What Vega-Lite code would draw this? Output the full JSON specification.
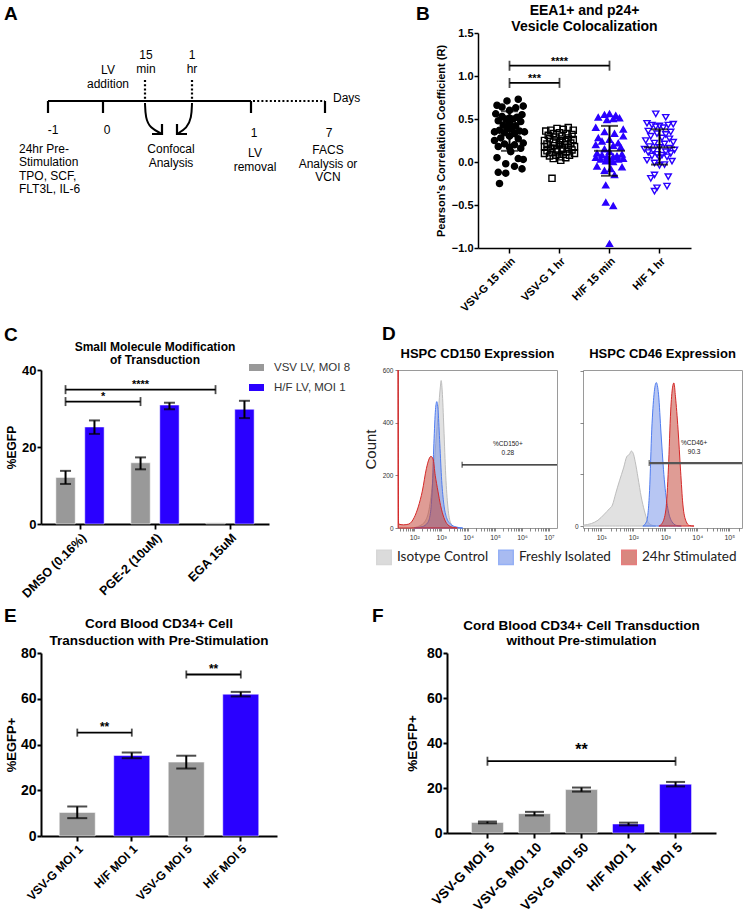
{
  "$schema": "https://vega.github.io/schema/vega-lite/v6.json",
  "background": "#ffffff",
  "padding": {"left": 3, "top": 4, "right": 0, "bottom": 0},
  "config": {
    "font": "Liberation Sans",
    "view": {"stroke": null},
    "axis": {"labelFont": "Liberation Sans", "titleFont": "Liberation Sans", "labelFontWeight": "bold", "titleFontWeight": "bold", "labelColor": "#000", "titleColor": "#000", "domainColor": "#000", "tickColor": "#000", "domainWidth": 2, "tickWidth": 2, "grid": false},
    "legend": {"labelFont": "Liberation Sans"},
    "text": {"font": "Liberation Sans"}
  },
  "datasets": {
    "a_lines": [
      {"seg": "main", "kind": "solid", "ord": 1, "x": 7, "y": 147},
      {"seg": "main", "kind": "solid", "ord": 2, "x": 210, "y": 147},
      {"seg": "t1", "kind": "solid", "ord": 1, "x": 7, "y": 147},
      {"seg": "t1", "kind": "solid", "ord": 2, "x": 7, "y": 135},
      {"seg": "t2", "kind": "solid", "ord": 1, "x": 62, "y": 147},
      {"seg": "t2", "kind": "solid", "ord": 2, "x": 62, "y": 135},
      {"seg": "t3", "kind": "solid", "ord": 1, "x": 210, "y": 147},
      {"seg": "t3", "kind": "solid", "ord": 2, "x": 210, "y": 135},
      {"seg": "t4", "kind": "solid", "ord": 1, "x": 284, "y": 147},
      {"seg": "t4", "kind": "solid", "ord": 2, "x": 284, "y": 135},
      {"seg": "h1", "kind": "solid", "ord": 1, "x": 111, "y": 114},
      {"seg": "h1", "kind": "solid", "ord": 2, "x": 121, "y": 114},
      {"seg": "h1", "kind": "solid", "ord": 3, "x": 121, "y": 124},
      {"seg": "h2", "kind": "solid", "ord": 1, "x": 146, "y": 114},
      {"seg": "h2", "kind": "solid", "ord": 2, "x": 136, "y": 114},
      {"seg": "h2", "kind": "solid", "ord": 3, "x": 136, "y": 124},
      {"seg": "ext", "kind": "dotted", "ord": 1, "x": 212, "y": 147},
      {"seg": "ext", "kind": "dotted", "ord": 2, "x": 284, "y": 147},
      {"seg": "d1", "kind": "dotted", "ord": 1, "x": 104, "y": 168},
      {"seg": "d1", "kind": "dotted", "ord": 2, "x": 104, "y": 148},
      {"seg": "d2", "kind": "dotted", "ord": 1, "x": 151, "y": 168},
      {"seg": "d2", "kind": "dotted", "ord": 2, "x": 151, "y": 148},
      {"seg": "c1", "kind": "curve", "ord": 1, "x": 104, "y": 145},
      {"seg": "c1", "kind": "curve", "ord": 2, "x": 104.5, "y": 130},
      {"seg": "c1", "kind": "curve", "ord": 3, "x": 109, "y": 120},
      {"seg": "c1", "kind": "curve", "ord": 4, "x": 121, "y": 114},
      {"seg": "c2", "kind": "curve", "ord": 1, "x": 151, "y": 145},
      {"seg": "c2", "kind": "curve", "ord": 2, "x": 150.5, "y": 130},
      {"seg": "c2", "kind": "curve", "ord": 3, "x": 146, "y": 120},
      {"seg": "c2", "kind": "curve", "ord": 4, "x": 136, "y": 114}
    ],
    "a_text_c": [
      {"t": "LV\naddition", "x": 67, "y": 174},
      {"t": "15\nmin", "x": 105, "y": 189},
      {"t": "1\nhr", "x": 151, "y": 189},
      {"t": "-1", "x": 12, "y": 114},
      {"t": "0", "x": 66, "y": 114},
      {"t": "1", "x": 213, "y": 111},
      {"t": "7", "x": 288, "y": 111},
      {"t": "Confocal\nAnalysis", "x": 130, "y": 95},
      {"t": "LV\nremoval", "x": 214, "y": 91},
      {"t": "FACS\nAnalysis or\nVCN", "x": 287, "y": 94}
    ],
    "a_text_l": [
      {"t": "Days", "x": 292, "y": 146},
      {"t": "24hr Pre-\nStimulation\nTPO, SCF,\nFLT3L, IL-6", "x": -22, "y": 95}
    ],
    "b_pts": [
      {"g": "VSV-G 15 min", "r": 0.73, "j": 0.35}, {"g": "VSV-G 15 min", "r": 0.71, "j": -0.1}, {"g": "VSV-G 15 min", "r": 0.66, "j": -0.5}, {"g": "VSV-G 15 min", "r": 0.65, "j": 0.55},
      {"g": "VSV-G 15 min", "r": 0.64, "j": -0.3}, {"g": "VSV-G 15 min", "r": 0.63, "j": 0.25}, {"g": "VSV-G 15 min", "r": 0.60, "j": 0.0}, {"g": "VSV-G 15 min", "r": 0.56, "j": -0.55},
      {"g": "VSV-G 15 min", "r": 0.55, "j": 0.5}, {"g": "VSV-G 15 min", "r": 0.53, "j": -0.3}, {"g": "VSV-G 15 min", "r": 0.52, "j": 0.3}, {"g": "VSV-G 15 min", "r": 0.51, "j": 0.0},
      {"g": "VSV-G 15 min", "r": 0.50, "j": -0.15}, {"g": "VSV-G 15 min", "r": 0.50, "j": 0.15}, {"g": "VSV-G 15 min", "r": 0.48, "j": -0.45}, {"g": "VSV-G 15 min", "r": 0.47, "j": 0.45},
      {"g": "VSV-G 15 min", "r": 0.45, "j": 0.0}, {"g": "VSV-G 15 min", "r": 0.43, "j": -0.25}, {"g": "VSV-G 15 min", "r": 0.42, "j": 0.25}, {"g": "VSV-G 15 min", "r": 0.39, "j": -0.1},
      {"g": "VSV-G 15 min", "r": 0.38, "j": 0.1}, {"g": "VSV-G 15 min", "r": 0.37, "j": -0.4}, {"g": "VSV-G 15 min", "r": 0.36, "j": 0.4}, {"g": "VSV-G 15 min", "r": 0.35, "j": -0.6},
      {"g": "VSV-G 15 min", "r": 0.35, "j": 0.6}, {"g": "VSV-G 15 min", "r": 0.34, "j": -0.2}, {"g": "VSV-G 15 min", "r": 0.33, "j": 0.2}, {"g": "VSV-G 15 min", "r": 0.30, "j": 0.0},
      {"g": "VSV-G 15 min", "r": 0.28, "j": -0.35}, {"g": "VSV-G 15 min", "r": 0.27, "j": 0.35}, {"g": "VSV-G 15 min", "r": 0.25, "j": -0.6}, {"g": "VSV-G 15 min", "r": 0.22, "j": 0.55},
      {"g": "VSV-G 15 min", "r": 0.21, "j": -0.2}, {"g": "VSV-G 15 min", "r": 0.20, "j": 0.2}, {"g": "VSV-G 15 min", "r": 0.18, "j": -0.45}, {"g": "VSV-G 15 min", "r": 0.17, "j": 0.0},
      {"g": "VSV-G 15 min", "r": 0.16, "j": 0.45}, {"g": "VSV-G 15 min", "r": 0.12, "j": 0.05}, {"g": "VSV-G 15 min", "r": 0.05, "j": -0.5}, {"g": "VSV-G 15 min", "r": 0.04, "j": 0.35},
      {"g": "VSV-G 15 min", "r": 0.03, "j": 0.55}, {"g": "VSV-G 15 min", "r": -0.02, "j": -0.15}, {"g": "VSV-G 15 min", "r": -0.05, "j": 0.2}, {"g": "VSV-G 15 min", "r": -0.08, "j": 0.5},
      {"g": "VSV-G 15 min", "r": -0.12, "j": -0.45}, {"g": "VSV-G 15 min", "r": -0.13, "j": -0.15}, {"g": "VSV-G 15 min", "r": -0.25, "j": -0.4},
      {"g": "VSV-G 1 hr", "r": 0.40, "j": 0.35}, {"g": "VSV-G 1 hr", "r": 0.39, "j": -0.1}, {"g": "VSV-G 1 hr", "r": 0.38, "j": 0.15}, {"g": "VSV-G 1 hr", "r": 0.37, "j": -0.35},
      {"g": "VSV-G 1 hr", "r": 0.37, "j": 0.55}, {"g": "VSV-G 1 hr", "r": 0.36, "j": -0.55}, {"g": "VSV-G 1 hr", "r": 0.34, "j": 0.0}, {"g": "VSV-G 1 hr", "r": 0.33, "j": -0.25},
      {"g": "VSV-G 1 hr", "r": 0.33, "j": 0.3}, {"g": "VSV-G 1 hr", "r": 0.32, "j": 0.5}, {"g": "VSV-G 1 hr", "r": 0.31, "j": -0.45}, {"g": "VSV-G 1 hr", "r": 0.30, "j": 0.1},
      {"g": "VSV-G 1 hr", "r": 0.29, "j": -0.15}, {"g": "VSV-G 1 hr", "r": 0.28, "j": 0.35}, {"g": "VSV-G 1 hr", "r": 0.27, "j": -0.4}, {"g": "VSV-G 1 hr", "r": 0.26, "j": 0.55},
      {"g": "VSV-G 1 hr", "r": 0.25, "j": -0.6}, {"g": "VSV-G 1 hr", "r": 0.25, "j": 0.05}, {"g": "VSV-G 1 hr", "r": 0.24, "j": 0.25}, {"g": "VSV-G 1 hr", "r": 0.23, "j": -0.25},
      {"g": "VSV-G 1 hr", "r": 0.22, "j": 0.45}, {"g": "VSV-G 1 hr", "r": 0.21, "j": -0.5}, {"g": "VSV-G 1 hr", "r": 0.20, "j": 0.0}, {"g": "VSV-G 1 hr", "r": 0.20, "j": 0.2},
      {"g": "VSV-G 1 hr", "r": 0.19, "j": -0.2}, {"g": "VSV-G 1 hr", "r": 0.18, "j": 0.6}, {"g": "VSV-G 1 hr", "r": 0.18, "j": -0.6}, {"g": "VSV-G 1 hr", "r": 0.17, "j": 0.35},
      {"g": "VSV-G 1 hr", "r": 0.16, "j": -0.35}, {"g": "VSV-G 1 hr", "r": 0.15, "j": 0.1}, {"g": "VSV-G 1 hr", "r": 0.14, "j": -0.1}, {"g": "VSV-G 1 hr", "r": 0.14, "j": 0.5},
      {"g": "VSV-G 1 hr", "r": 0.13, "j": -0.5}, {"g": "VSV-G 1 hr", "r": 0.12, "j": 0.3}, {"g": "VSV-G 1 hr", "r": 0.11, "j": -0.3}, {"g": "VSV-G 1 hr", "r": 0.10, "j": 0.6},
      {"g": "VSV-G 1 hr", "r": 0.10, "j": -0.6}, {"g": "VSV-G 1 hr", "r": 0.09, "j": 0.15}, {"g": "VSV-G 1 hr", "r": 0.08, "j": -0.15}, {"g": "VSV-G 1 hr", "r": 0.08, "j": 0.4},
      {"g": "VSV-G 1 hr", "r": 0.07, "j": -0.4}, {"g": "VSV-G 1 hr", "r": 0.06, "j": 0.0}, {"g": "VSV-G 1 hr", "r": 0.05, "j": 0.25}, {"g": "VSV-G 1 hr", "r": 0.04, "j": -0.25},
      {"g": "VSV-G 1 hr", "r": 0.02, "j": 0.05}, {"g": "VSV-G 1 hr", "r": -0.19, "j": -0.3},
      {"g": "H/F 15 min", "r": 0.56, "j": 0.0}, {"g": "H/F 15 min", "r": 0.55, "j": -0.2}, {"g": "H/F 15 min", "r": 0.54, "j": 0.25}, {"g": "H/F 15 min", "r": 0.52, "j": -0.45},
      {"g": "H/F 15 min", "r": 0.51, "j": 0.4}, {"g": "H/F 15 min", "r": 0.50, "j": 0.15}, {"g": "H/F 15 min", "r": 0.49, "j": -0.1}, {"g": "H/F 15 min", "r": 0.40, "j": -0.55},
      {"g": "H/F 15 min", "r": 0.38, "j": 0.55}, {"g": "H/F 15 min", "r": 0.35, "j": -0.2}, {"g": "H/F 15 min", "r": 0.33, "j": 0.2}, {"g": "H/F 15 min", "r": 0.30, "j": 0.55},
      {"g": "H/F 15 min", "r": 0.28, "j": -0.45}, {"g": "H/F 15 min", "r": 0.26, "j": 0.0}, {"g": "H/F 15 min", "r": 0.24, "j": -0.3}, {"g": "H/F 15 min", "r": 0.22, "j": 0.35},
      {"g": "H/F 15 min", "r": 0.20, "j": -0.55}, {"g": "H/F 15 min", "r": 0.19, "j": 0.15}, {"g": "H/F 15 min", "r": 0.17, "j": 0.45}, {"g": "H/F 15 min", "r": 0.15, "j": -0.2},
      {"g": "H/F 15 min", "r": 0.12, "j": 0.0}, {"g": "H/F 15 min", "r": 0.10, "j": -0.5}, {"g": "H/F 15 min", "r": 0.09, "j": 0.5}, {"g": "H/F 15 min", "r": 0.08, "j": -0.3},
      {"g": "H/F 15 min", "r": 0.07, "j": 0.3}, {"g": "H/F 15 min", "r": 0.06, "j": -0.1}, {"g": "H/F 15 min", "r": 0.06, "j": 0.15}, {"g": "H/F 15 min", "r": 0.05, "j": -0.55},
      {"g": "H/F 15 min", "r": 0.04, "j": 0.55}, {"g": "H/F 15 min", "r": 0.03, "j": -0.35}, {"g": "H/F 15 min", "r": 0.03, "j": 0.35}, {"g": "H/F 15 min", "r": 0.02, "j": 0.0},
      {"g": "H/F 15 min", "r": 0.01, "j": -0.15}, {"g": "H/F 15 min", "r": 0.0, "j": 0.15}, {"g": "H/F 15 min", "r": -0.05, "j": -0.5}, {"g": "H/F 15 min", "r": -0.06, "j": 0.5},
      {"g": "H/F 15 min", "r": -0.08, "j": 0.05}, {"g": "H/F 15 min", "r": -0.10, "j": -0.2}, {"g": "H/F 15 min", "r": -0.15, "j": 0.2}, {"g": "H/F 15 min", "r": -0.27, "j": -0.15},
      {"g": "H/F 15 min", "r": -0.47, "j": -0.15}, {"g": "H/F 15 min", "r": -0.51, "j": 0.15}, {"g": "H/F 15 min", "r": -0.95, "j": 0.0},
      {"g": "H/F 1 hr", "r": 0.56, "j": -0.15}, {"g": "H/F 1 hr", "r": 0.52, "j": 0.25}, {"g": "H/F 1 hr", "r": 0.45, "j": -0.5}, {"g": "H/F 1 hr", "r": 0.44, "j": 0.55},
      {"g": "H/F 1 hr", "r": 0.43, "j": -0.3}, {"g": "H/F 1 hr", "r": 0.43, "j": 0.35}, {"g": "H/F 1 hr", "r": 0.42, "j": 0.0}, {"g": "H/F 1 hr", "r": 0.41, "j": -0.15},
      {"g": "H/F 1 hr", "r": 0.40, "j": 0.15}, {"g": "H/F 1 hr", "r": 0.36, "j": -0.45}, {"g": "H/F 1 hr", "r": 0.35, "j": 0.45}, {"g": "H/F 1 hr", "r": 0.33, "j": -0.1},
      {"g": "H/F 1 hr", "r": 0.32, "j": 0.25}, {"g": "H/F 1 hr", "r": 0.30, "j": -0.35}, {"g": "H/F 1 hr", "r": 0.28, "j": 0.1}, {"g": "H/F 1 hr", "r": 0.27, "j": 0.4},
      {"g": "H/F 1 hr", "r": 0.25, "j": -0.55}, {"g": "H/F 1 hr", "r": 0.23, "j": 0.55}, {"g": "H/F 1 hr", "r": 0.22, "j": -0.2}, {"g": "H/F 1 hr", "r": 0.21, "j": 0.2},
      {"g": "H/F 1 hr", "r": 0.18, "j": -0.4}, {"g": "H/F 1 hr", "r": 0.17, "j": 0.0}, {"g": "H/F 1 hr", "r": 0.16, "j": 0.4}, {"g": "H/F 1 hr", "r": 0.15, "j": -0.6},
      {"g": "H/F 1 hr", "r": 0.14, "j": 0.6}, {"g": "H/F 1 hr", "r": 0.13, "j": -0.25}, {"g": "H/F 1 hr", "r": 0.12, "j": 0.25}, {"g": "H/F 1 hr", "r": 0.11, "j": -0.45},
      {"g": "H/F 1 hr", "r": 0.10, "j": 0.45}, {"g": "H/F 1 hr", "r": 0.09, "j": -0.1}, {"g": "H/F 1 hr", "r": 0.08, "j": 0.1}, {"g": "H/F 1 hr", "r": 0.07, "j": -0.3},
      {"g": "H/F 1 hr", "r": 0.06, "j": 0.3}, {"g": "H/F 1 hr", "r": 0.05, "j": 0.0}, {"g": "H/F 1 hr", "r": 0.02, "j": -0.5}, {"g": "H/F 1 hr", "r": 0.01, "j": 0.5},
      {"g": "H/F 1 hr", "r": -0.01, "j": -0.2}, {"g": "H/F 1 hr", "r": -0.03, "j": 0.2}, {"g": "H/F 1 hr", "r": -0.04, "j": 0.0}, {"g": "H/F 1 hr", "r": -0.15, "j": -0.2},
      {"g": "H/F 1 hr", "r": -0.17, "j": 0.35}, {"g": "H/F 1 hr", "r": -0.19, "j": -0.35}, {"g": "H/F 1 hr", "r": -0.28, "j": 0.3}, {"g": "H/F 1 hr", "r": -0.30, "j": -0.1},
      {"g": "H/F 1 hr", "r": -0.34, "j": -0.2}
    ],
    "b_sum": [
      {"g": "VSV-G 15 min", "mean": 0.36, "lo": 0.13, "hi": 0.59},
      {"g": "VSV-G 1 hr", "mean": 0.18, "lo": 0.08, "hi": 0.28},
      {"g": "H/F 15 min", "mean": 0.13, "lo": -0.16, "hi": 0.42},
      {"g": "H/F 1 hr", "mean": 0.17, "lo": -0.03, "hi": 0.38}
    ],
    "b_br": [
      {"x1": 0, "x2": 2, "mid": 1, "y": 1.12, "ty": 1.125, "label": "****"},
      {"x1": 0, "x2": 1, "mid": 0.5, "y": 0.92, "ty": 0.925, "label": "***"}
    ],
    "c_bars": [
      {"treatment": "DMSO (0.16%)", "vector": "VSV LV, MOI 8", "mean": 12.1, "lo": 10.4, "hi": 13.8},
      {"treatment": "DMSO (0.16%)", "vector": "H/F LV, MOI 1", "mean": 25.2, "lo": 23.4, "hi": 26.9},
      {"treatment": "PGE-2 (10uM)", "vector": "VSV LV, MOI 8", "mean": 15.9, "lo": 14.2, "hi": 17.3},
      {"treatment": "PGE-2 (10uM)", "vector": "H/F LV, MOI 1", "mean": 30.9, "lo": 29.8, "hi": 31.5},
      {"treatment": "EGA 15uM", "vector": "VSV LV, MOI 8", "mean": 0.3, "lo": null, "hi": null},
      {"treatment": "EGA 15uM", "vector": "H/F LV, MOI 1", "mean": 29.8, "lo": 27.5, "hi": 32.0}
    ],
    "c_br": [
      {"x1": 0, "x2": 1, "mid": 0.5, "y": 31.8, "ty": 32.1, "label": "*"},
      {"x1": 0, "x2": 2, "mid": 1, "y": 34.9, "ty": 35.2, "label": "****"}
    ],
    "e_bars": [
      {"cond": "VSV-G MOI 1", "vector": "VSV-G", "mean": 10.3, "lo": 7.8, "hi": 12.9},
      {"cond": "H/F MOI 1", "vector": "H/F", "mean": 35.2, "lo": 34.0, "hi": 36.5},
      {"cond": "VSV-G MOI 5", "vector": "VSV-G", "mean": 32.3, "lo": 29.5, "hi": 35.1},
      {"cond": "H/F MOI 5", "vector": "H/F", "mean": 62.0, "lo": 61.0, "hi": 63.0}
    ],
    "e_br": [
      {"x1": 0, "x2": 1, "mid": 0.5, "y": 45.2, "ty": 45.7, "label": "**"},
      {"x1": 2, "x2": 3, "mid": 2.5, "y": 70.6, "ty": 71.1, "label": "**"}
    ],
    "f_bars": [
      {"cond": "VSV-G MOI 5", "vector": "VSV-G", "mean": 4.7, "lo": 4.3, "hi": 5.1},
      {"cond": "VSV-G MOI 10", "vector": "VSV-G", "mean": 8.6, "lo": 7.8, "hi": 9.4},
      {"cond": "VSV-G MOI 50", "vector": "VSV-G", "mean": 19.3, "lo": 18.4, "hi": 20.2},
      {"cond": "H/F MOI 1", "vector": "H/F", "mean": 4.0, "lo": 3.4, "hi": 4.6},
      {"cond": "H/F MOI 5", "vector": "H/F", "mean": 21.7, "lo": 20.7, "hi": 22.7}
    ],
    "f_br": [
      {"x1": 0, "x2": 4, "mid": 2, "y": 31.9, "ty": 34.8, "label": "**"}
    ],
    "d150": [
      {"series": "Isotype Control", "v": 79, "n": 0}, {"series": "Isotype Control", "v": 158, "n": 8}, {"series": "Isotype Control", "v": 251, "n": 25}, {"series": "Isotype Control", "v": 355, "n": 70},
      {"series": "Isotype Control", "v": 501, "n": 190}, {"series": "Isotype Control", "v": 631, "n": 320}, {"series": "Isotype Control", "v": 794, "n": 450}, {"series": "Isotype Control", "v": 933, "n": 535},
      {"series": "Isotype Control", "v": 1000, "n": 560}, {"series": "Isotype Control", "v": 1096, "n": 520}, {"series": "Isotype Control", "v": 1259, "n": 380}, {"series": "Isotype Control", "v": 1479, "n": 200},
      {"series": "Isotype Control", "v": 1778, "n": 80}, {"series": "Isotype Control", "v": 2239, "n": 20}, {"series": "Isotype Control", "v": 3162, "n": 3}, {"series": "Isotype Control", "v": 5012, "n": 0},
      {"series": "Freshly Isolated", "v": 100, "n": 0}, {"series": "Freshly Isolated", "v": 200, "n": 5}, {"series": "Freshly Isolated", "v": 316, "n": 20}, {"series": "Freshly Isolated", "v": 398, "n": 55},
      {"series": "Freshly Isolated", "v": 468, "n": 150}, {"series": "Freshly Isolated", "v": 537, "n": 320}, {"series": "Freshly Isolated", "v": 617, "n": 450}, {"series": "Freshly Isolated", "v": 692, "n": 480},
      {"series": "Freshly Isolated", "v": 776, "n": 440}, {"series": "Freshly Isolated", "v": 891, "n": 320}, {"series": "Freshly Isolated", "v": 1047, "n": 180}, {"series": "Freshly Isolated", "v": 1259, "n": 90},
      {"series": "Freshly Isolated", "v": 1585, "n": 40}, {"series": "Freshly Isolated", "v": 2239, "n": 15}, {"series": "Freshly Isolated", "v": 3548, "n": 4}, {"series": "Freshly Isolated", "v": 6310, "n": 0},
      {"series": "24hr Stimulated", "v": 25.2, "n": 600}, {"series": "24hr Stimulated", "v": 26.3, "n": 15}, {"series": "24hr Stimulated", "v": 39.8, "n": 12}, {"series": "24hr Stimulated", "v": 63, "n": 15},
      {"series": "24hr Stimulated", "v": 100, "n": 40}, {"series": "24hr Stimulated", "v": 141, "n": 80}, {"series": "24hr Stimulated", "v": 200, "n": 140}, {"series": "24hr Stimulated", "v": 282, "n": 225},
      {"series": "24hr Stimulated", "v": 355, "n": 262}, {"series": "24hr Stimulated", "v": 417, "n": 272}, {"series": "24hr Stimulated", "v": 501, "n": 262}, {"series": "24hr Stimulated", "v": 603, "n": 200},
      {"series": "24hr Stimulated", "v": 759, "n": 140}, {"series": "24hr Stimulated", "v": 955, "n": 85}, {"series": "24hr Stimulated", "v": 1259, "n": 40}, {"series": "24hr Stimulated", "v": 1778, "n": 12},
      {"series": "24hr Stimulated", "v": 2818, "n": 2}, {"series": "24hr Stimulated", "v": 3981, "n": 0}
    ],
    "d46": [
      {"series": "Isotype Control", "v": 2.8, "n": 3}, {"series": "Isotype Control", "v": 5, "n": 8}, {"series": "Isotype Control", "v": 7.9, "n": 18}, {"series": "Isotype Control", "v": 12.6, "n": 37},
      {"series": "Isotype Control", "v": 17.8, "n": 53}, {"series": "Isotype Control", "v": 22.4, "n": 65}, {"series": "Isotype Control", "v": 28.2, "n": 100}, {"series": "Isotype Control", "v": 37.2, "n": 140},
      {"series": "Isotype Control", "v": 50, "n": 180}, {"series": "Isotype Control", "v": 63, "n": 215}, {"series": "Isotype Control", "v": 76, "n": 222}, {"series": "Isotype Control", "v": 87, "n": 232},
      {"series": "Isotype Control", "v": 100, "n": 225}, {"series": "Isotype Control", "v": 115, "n": 200}, {"series": "Isotype Control", "v": 141, "n": 150}, {"series": "Isotype Control", "v": 178, "n": 90},
      {"series": "Isotype Control", "v": 224, "n": 47}, {"series": "Isotype Control", "v": 282, "n": 15}, {"series": "Isotype Control", "v": 355, "n": 4}, {"series": "Isotype Control", "v": 501, "n": 0},
      {"series": "Freshly Isolated", "v": 200, "n": 0}, {"series": "Freshly Isolated", "v": 263, "n": 15}, {"series": "Freshly Isolated", "v": 324, "n": 110}, {"series": "Freshly Isolated", "v": 380, "n": 300},
      {"series": "Freshly Isolated", "v": 447, "n": 408}, {"series": "Freshly Isolated", "v": 525, "n": 444}, {"series": "Freshly Isolated", "v": 617, "n": 408}, {"series": "Freshly Isolated", "v": 741, "n": 285},
      {"series": "Freshly Isolated", "v": 933, "n": 145}, {"series": "Freshly Isolated", "v": 1202, "n": 55}, {"series": "Freshly Isolated", "v": 1585, "n": 15}, {"series": "Freshly Isolated", "v": 2239, "n": 2},
      {"series": "Freshly Isolated", "v": 3162, "n": 0},
      {"series": "24hr Stimulated", "v": 631, "n": 0}, {"series": "24hr Stimulated", "v": 794, "n": 8}, {"series": "24hr Stimulated", "v": 1047, "n": 50}, {"series": "24hr Stimulated", "v": 1259, "n": 180},
      {"series": "24hr Stimulated", "v": 1479, "n": 356}, {"series": "24hr Stimulated", "v": 1698, "n": 430}, {"series": "24hr Stimulated", "v": 1862, "n": 443}, {"series": "24hr Stimulated", "v": 2089, "n": 400},
      {"series": "24hr Stimulated", "v": 2512, "n": 300}, {"series": "24hr Stimulated", "v": 3020, "n": 170}, {"series": "24hr Stimulated", "v": 3548, "n": 68}, {"series": "24hr Stimulated", "v": 4467, "n": 15},
      {"series": "24hr Stimulated", "v": 5623, "n": 2}, {"series": "24hr Stimulated", "v": 7943, "n": 0}
    ],
    "d150_gate": [{"from": 6000, "to": 20000000, "y": 240, "tx": 300000, "ty": 310, "label": "%CD150+\n0.28"}],
    "d46_gate": [{"from": 316, "to": 250000, "y": 195, "tx": 8000, "ty": 250, "label": "%CD46+\n90.3"}],
    "one": [{"k": 1}]
  },
  "resolve": {"scale": {"fill": "independent", "stroke": "independent", "shape": "independent"}},
  "spacing": 6,
  "vconcat": [
    {
      "spacing": 10,
      "resolve": {"scale": {"fill": "independent", "stroke": "independent", "shape": "independent"}},
      "vconcat": [
        {
          "bounds": "flush",
          "spacing": 107,
          "resolve": {"scale": {"fill": "independent", "stroke": "independent", "shape": "independent"}},
          "hconcat": [
            {
              "width": 330,
              "height": 215,
              "layer": [
                {
                  "data": {"name": "a_lines"},
                  "transform": [{"filter": {"field": "kind", "equal": "solid"}}],
                  "mark": {"type": "line", "color": "#000", "strokeWidth": 2.2},
                  "encoding": {
                    "x": {"field": "x", "type": "quantitative", "scale": {"domain": [0, 330], "nice": false, "zero": false}, "axis": null},
                    "y": {"field": "y", "type": "quantitative", "scale": {"domain": [0, 215], "nice": false, "zero": false}, "axis": null},
                    "detail": {"field": "seg", "type": "nominal"},
                    "order": {"field": "ord", "type": "quantitative"}
                  }
                },
                {
                  "data": {"name": "a_lines"},
                  "transform": [{"filter": {"field": "kind", "equal": "dotted"}}],
                  "mark": {"type": "line", "color": "#000", "strokeWidth": 2.2, "strokeDash": [2, 2.2]},
                  "encoding": {
                    "x": {"field": "x", "type": "quantitative", "axis": null},
                    "y": {"field": "y", "type": "quantitative", "axis": null},
                    "detail": {"field": "seg", "type": "nominal"},
                    "order": {"field": "ord", "type": "quantitative"}
                  }
                },
                {
                  "data": {"name": "a_lines"},
                  "transform": [{"filter": {"field": "kind", "equal": "curve"}}],
                  "mark": {"type": "line", "color": "#000", "strokeWidth": 2, "interpolate": "basis"},
                  "encoding": {
                    "x": {"field": "x", "type": "quantitative", "axis": null},
                    "y": {"field": "y", "type": "quantitative", "axis": null},
                    "detail": {"field": "seg", "type": "nominal"},
                    "order": {"field": "ord", "type": "quantitative"}
                  }
                },
                {
                  "data": {"name": "a_text_c"},
                  "mark": {"type": "text", "align": "center", "baseline": "alphabetic", "fontSize": 12, "lineBreak": "\n", "lineHeight": 13.5, "color": "#000"},
                  "encoding": {
                    "x": {"field": "x", "type": "quantitative", "axis": null},
                    "y": {"field": "y", "type": "quantitative", "axis": null},
                    "text": {"field": "t"}
                  }
                },
                {
                  "data": {"name": "a_text_l"},
                  "mark": {"type": "text", "align": "left", "baseline": "alphabetic", "fontSize": 12, "lineBreak": "\n", "lineHeight": 13.3, "color": "#000"},
                  "encoding": {
                    "x": {"field": "x", "type": "quantitative", "axis": null},
                    "y": {"field": "y", "type": "quantitative", "axis": null},
                    "text": {"field": "t"}
                  }
                },
                {
                  "data": {"name": "one"},
                  "mark": {"type": "text", "align": "left", "baseline": "alphabetic", "fontSize": 19, "fontWeight": "bold", "color": "#000"},
                  "encoding": {
                    "x": {"datum": -37, "type": "quantitative", "axis": null},
                    "y": {"datum": 228, "type": "quantitative", "axis": null},
                    "text": {"value": "A"}
                  }
                }
              ]
            },
            {
              "width": 213,
              "height": 215,
              "layer": [
                {
                  "layer": [
                    {
                      "data": {"name": "b_pts"},
                      "mark": {"type": "point", "size": 38, "strokeWidth": 1.4, "opacity": 1},
                      "encoding": {
                        "x": {"field": "g", "type": "nominal", "scale": {"domain": ["VSV-G 15 min", "VSV-G 1 hr", "H/F 15 min", "H/F 1 hr"], "paddingInner": 0, "paddingOuter": 0.13},
                              "axis": {"title": null, "labelAngle": -45, "labelAlign": "right", "labelBaseline": "top", "labelFontSize": 11, "tickSize": 5, "labelPadding": 2, "domainWidth": 1.5, "tickWidth": 1.5}},
                        "xOffset": {"field": "j", "type": "quantitative", "scale": {"domain": [-1, 1]}},
                        "y": {"field": "r", "type": "quantitative", "scale": {"domain": [-1, 1.5], "nice": false, "zero": false},
                              "axis": {"title": "Pearson's Correlation Coefficient (R)", "values": [-1, -0.5, 0, 0.5, 1, 1.5], "format": ".1f", "labelFontSize": 11, "titleFontSize": 11, "tickSize": 4, "labelPadding": 1, "titlePadding": 5, "domainWidth": 1.5, "tickWidth": 1.5}},
                        "shape": {"field": "g", "type": "nominal", "scale": {"domain": ["VSV-G 15 min", "VSV-G 1 hr", "H/F 15 min", "H/F 1 hr"], "range": ["circle", "square", "triangle-up", "triangle-down"]}, "legend": null},
                        "stroke": {"field": "g", "type": "nominal", "scale": {"domain": ["VSV-G 15 min", "VSV-G 1 hr", "H/F 15 min", "H/F 1 hr"], "range": ["#000000", "#000000", "#2a00ff", "#2a00ff"]}, "legend": null},
                        "fill": {"field": "g", "type": "nominal", "scale": {"domain": ["VSV-G 15 min", "VSV-G 1 hr", "H/F 15 min", "H/F 1 hr"], "range": ["#000000", "transparent", "#2a00ff", "transparent"]}, "legend": null}
                      }
                    },
                    {
                      "data": {"name": "b_sum"},
                      "mark": {"type": "rule", "color": "#000", "strokeWidth": 2},
                      "encoding": {"x": {"field": "g", "type": "nominal"}, "y": {"field": "lo", "type": "quantitative"}, "y2": {"field": "hi"}}
                    },
                    {
                      "data": {"name": "b_sum"},
                      "mark": {"type": "tick", "color": "#000", "orient": "horizontal", "size": 31, "thickness": 2},
                      "encoding": {"x": {"field": "g", "type": "nominal"}, "y": {"field": "mean", "type": "quantitative"}}
                    },
                    {
                      "data": {"name": "b_sum"},
                      "mark": {"type": "tick", "color": "#000", "orient": "horizontal", "size": 17, "thickness": 2},
                      "encoding": {"x": {"field": "g", "type": "nominal"}, "y": {"field": "lo", "type": "quantitative"}}
                    },
                    {
                      "data": {"name": "b_sum"},
                      "mark": {"type": "tick", "color": "#000", "orient": "horizontal", "size": 17, "thickness": 2},
                      "encoding": {"x": {"field": "g", "type": "nominal"}, "y": {"field": "hi", "type": "quantitative"}}
                    }
                  ]
                },
                {
                  "layer": [
                    {
                      "data": {"name": "b_br"},
                      "mark": {"type": "rule", "color": "#000", "strokeWidth": 1.8},
                      "encoding": {
                        "x": {"field": "x1", "type": "quantitative", "scale": {"domain": [-0.63, 3.63], "nice": false, "zero": false}, "axis": null},
                        "x2": {"field": "x2"},
                        "y": {"field": "y", "type": "quantitative", "scale": {"domain": [-1, 1.5], "nice": false, "zero": false}, "axis": null}
                      }
                    },
                    {
                      "data": {"name": "b_br"},
                      "mark": {"type": "tick", "color": "#000", "orient": "vertical", "size": 10, "thickness": 1.8},
                      "encoding": {"x": {"field": "x1", "type": "quantitative", "axis": null}, "y": {"field": "y", "type": "quantitative", "axis": null}}
                    },
                    {
                      "data": {"name": "b_br"},
                      "mark": {"type": "tick", "color": "#000", "orient": "vertical", "size": 10, "thickness": 1.8},
                      "encoding": {"x": {"field": "x2", "type": "quantitative", "axis": null}, "y": {"field": "y", "type": "quantitative", "axis": null}}
                    },
                    {
                      "data": {"name": "b_br"},
                      "mark": {"type": "text", "fontSize": 11, "fontWeight": "bold", "baseline": "alphabetic", "color": "#000"},
                      "encoding": {"x": {"field": "mid", "type": "quantitative", "axis": null}, "y": {"field": "ty", "type": "quantitative", "axis": null}, "text": {"field": "label"}}
                    },
                    {
                      "data": {"name": "one"},
                      "mark": {"type": "text", "align": "left", "baseline": "alphabetic", "fontSize": 19, "fontWeight": "bold", "color": "#000"},
                      "encoding": {"x": {"datum": -1.87, "type": "quantitative", "axis": null}, "y": {"datum": 1.651, "type": "quantitative", "axis": null}, "text": {"value": "B"}}
                    },
                    {
                      "data": {"name": "one"},
                      "mark": {"type": "text", "align": "center", "baseline": "alphabetic", "fontSize": 14, "fontWeight": "bold", "lineBreak": "\n", "lineHeight": 16, "color": "#000"},
                      "encoding": {"x": {"datum": 1.5, "type": "quantitative", "axis": null}, "y": {"datum": 1.709, "type": "quantitative", "axis": null}, "text": {"value": "EEA1+ and p24+\nVesicle Colocalization"}}
                    }
                  ]
                }
              ],
              "resolve": {"scale": {"x": "independent", "y": "independent"}}
            }
          ]
        },
        {
          "bounds": "flush",
          "spacing": 26,
          "resolve": {"scale": {"fill": "independent", "stroke": "independent", "shape": "independent"}},
          "hconcat": [
            {
              "width": 228,
              "height": 154,
              "layer": [
                {
                  "layer": [
                    {
                      "data": {"name": "c_bars"},
                      "mark": {"type": "bar", "stroke": "#ffffff", "strokeOpacity": 0.5, "strokeWidth": 1},
                      "encoding": {
                        "x": {"field": "treatment", "type": "nominal", "scale": {"domain": ["DMSO (0.16%)", "PGE-2 (10uM)", "EGA 15uM"], "paddingInner": 0.31, "paddingOuter": 0.175},
                              "axis": {"title": null, "labelAngle": -45, "labelAlign": "right", "labelBaseline": "top", "labelFontSize": 12.5, "tickSize": 5, "labelPadding": 2, "domainWidth": 1.8, "tickWidth": 1.8}},
                        "xOffset": {"field": "vector", "type": "nominal", "scale": {"domain": ["VSV LV, MOI 8", "H/F LV, MOI 1"], "paddingInner": 0.33, "paddingOuter": 0.06}},
                        "y": {"field": "mean", "type": "quantitative", "scale": {"domain": [0, 40], "nice": false},
                              "axis": {"title": "%EGFP", "values": [0, 10, 20, 30, 40], "labelFontSize": 13, "titleFontSize": 12, "tickSize": 4, "labelPadding": 1, "titlePadding": 3, "domainWidth": 1.8, "tickWidth": 1.8}},
                        "fill": {"field": "vector", "type": "nominal", "scale": {"domain": ["VSV LV, MOI 8", "H/F LV, MOI 1"], "range": ["#999999", "#2a00ff"]},
                                 "legend": {"orient": "none", "legendX": 208, "legendY": -10, "title": null, "direction": "vertical", "symbolType": "M-1,-0.47H1V0.47H-1Z", "symbolSize": 225, "symbolStrokeWidth": 0, "labelFontSize": 11.5, "labelFontWeight": "normal", "labelColor": "#333", "labelOffset": 10, "rowPadding": 7}}
                      }
                    },
                    {
                      "data": {"name": "c_bars"},
                      "mark": {"type": "rule", "color": "#000", "strokeWidth": 2},
                      "encoding": {"x": {"field": "treatment", "type": "nominal"}, "xOffset": {"field": "vector", "type": "nominal"}, "y": {"field": "lo", "type": "quantitative"}, "y2": {"field": "hi"}}
                    },
                    {
                      "data": {"name": "c_bars"},
                      "mark": {"type": "tick", "color": "#000", "orient": "horizontal", "size": 11, "thickness": 2},
                      "encoding": {"x": {"field": "treatment", "type": "nominal"}, "xOffset": {"field": "vector", "type": "nominal"}, "y": {"field": "lo", "type": "quantitative"}}
                    },
                    {
                      "data": {"name": "c_bars"},
                      "mark": {"type": "tick", "color": "#000", "orient": "horizontal", "size": 11, "thickness": 2},
                      "encoding": {"x": {"field": "treatment", "type": "nominal"}, "xOffset": {"field": "vector", "type": "nominal"}, "y": {"field": "hi", "type": "quantitative"}}
                    }
                  ]
                },
                {
                  "layer": [
                    {
                      "data": {"name": "c_br"},
                      "mark": {"type": "rule", "color": "#000", "strokeWidth": 1.8},
                      "encoding": {
                        "x": {"field": "x1", "type": "quantitative", "scale": {"domain": [-0.327, 2.713], "nice": false, "zero": false}, "axis": null},
                        "x2": {"field": "x2"},
                        "y": {"field": "y", "type": "quantitative", "scale": {"domain": [0, 40], "nice": false}, "axis": null}
                      }
                    },
                    {
                      "data": {"name": "c_br"},
                      "mark": {"type": "tick", "color": "#000", "orient": "vertical", "size": 9, "thickness": 1.8},
                      "encoding": {"x": {"field": "x1", "type": "quantitative", "axis": null}, "y": {"field": "y", "type": "quantitative", "axis": null}}
                    },
                    {
                      "data": {"name": "c_br"},
                      "mark": {"type": "tick", "color": "#000", "orient": "vertical", "size": 9, "thickness": 1.8},
                      "encoding": {"x": {"field": "x2", "type": "quantitative", "axis": null}, "y": {"field": "y", "type": "quantitative", "axis": null}}
                    },
                    {
                      "data": {"name": "c_br"},
                      "mark": {"type": "text", "fontSize": 11, "fontWeight": "bold", "baseline": "alphabetic", "color": "#000"},
                      "encoding": {"x": {"field": "mid", "type": "quantitative", "axis": null}, "y": {"field": "ty", "type": "quantitative", "axis": null}, "text": {"field": "label"}}
                    },
                    {
                      "data": {"name": "one"},
                      "mark": {"type": "text", "align": "left", "baseline": "alphabetic", "fontSize": 19, "fontWeight": "bold", "color": "#000"},
                      "encoding": {"x": {"datum": -0.82, "type": "quantitative", "axis": null}, "y": {"datum": 47.53, "type": "quantitative", "axis": null}, "text": {"value": "C"}}
                    },
                    {
                      "data": {"name": "one"},
                      "mark": {"type": "text", "align": "center", "baseline": "alphabetic", "fontSize": 12, "fontWeight": "bold", "lineBreak": "\n", "lineHeight": 13, "color": "#000"},
                      "encoding": {"x": {"datum": 1.193, "type": "quantitative", "axis": null}, "y": {"datum": 44.94, "type": "quantitative", "axis": null}, "text": {"value": "Small Molecule Modification\nof Transduction"}}
                    }
                  ]
                }
              ],
              "resolve": {"scale": {"x": "independent", "y": "independent"}}
            },
            {"width": 77, "height": 1, "data": {"name": "one"}, "mark": {"type": "text", "text": ""}},
            {
              "width": 159,
              "height": 158,
              "view": {"stroke": "#9a9a9a", "strokeWidth": 1},
              "layer": [
                {
                  "data": {"name": "d150"},
                  "mark": {"type": "area", "fillOpacity": 0.5, "strokeWidth": 1, "interpolate": "monotone"},
                  "encoding": {
                    "x": {"field": "v", "type": "quantitative", "scale": {"type": "log", "domain": [25, 20000000], "nice": false},
                          "axis": {"title": null, "values": [30, 40, 50, 60, 70, 80, 90, 100, 200, 300, 400, 500, 600, 700, 800, 900, 1000, 2000, 3000, 4000, 5000, 6000, 7000, 8000, 9000, 10000, 20000, 30000, 40000, 50000, 60000, 70000, 80000, 90000, 100000, 200000, 300000, 400000, 500000, 600000, 700000, 800000, 900000, 1000000, 2000000, 3000000, 4000000, 5000000, 6000000, 7000000, 8000000, 9000000, 10000000],
                                   "labelExpr": "indexof([10,100,1000,10000,100000,1000000,10000000], datum.value) >= 0 ? '10' + ['⁰','¹','²','³','⁴','⁵','⁶','⁷'][round(log(datum.value)/LN10)] : ''",
                                   "domain": false, "tickSize": 3, "tickWidth": 0.7, "tickColor": "#555", "labelFontSize": 7, "labelFontWeight": "normal", "labelColor": "#333", "labelPadding": 2, "labelFlush": false, "labelOverlap": false}},
                    "y": {"field": "n", "type": "quantitative", "stack": null, "scale": {"domain": [0, 600], "nice": false},
                          "axis": {"title": "Count", "values": [0, 50, 100, 150, 200, 250, 300, 350, 400, 450, 500, 550, 600], "labelExpr": "datum.value % 200 === 0 ? datum.label : ''",
                                   "titleFontWeight": "normal", "titleFontSize": 15, "titleColor": "#222", "titlePadding": 4, "domain": false, "tickSize": 3, "tickWidth": 0.7, "tickColor": "#555", "labelFontSize": 6.5, "labelFontWeight": "normal", "labelColor": "#333", "labelPadding": 2, "labelOverlap": false}},
                    "fill": {"field": "series", "type": "nominal", "scale": {"domain": ["Isotype Control", "Freshly Isolated", "24hr Stimulated"], "range": ["#c4c4c4", "#6f8ee8", "#c0392b"]},
                             "legend": {"orient": "none", "legendX": -22, "legendY": 179, "direction": "horizontal", "title": null, "symbolType": "square", "symbolSize": 210, "symbolStrokeWidth": 1.5, "symbolOpacity": 0.6, "labelFont": "Lato", "labelFontSize": 13.5, "labelColor": "#222", "labelFontWeight": "normal", "columnPadding": 6, "labelOffset": 5}},
                    "stroke": {"field": "series", "type": "nominal", "scale": {"domain": ["Isotype Control", "Freshly Isolated", "24hr Stimulated"], "range": ["#bdbdbd", "#4f7cf0", "#d62828"]},
                               "legend": {"orient": "none", "legendX": -22, "legendY": 179, "direction": "horizontal", "title": null, "symbolType": "square", "symbolSize": 210, "symbolStrokeWidth": 1.5, "symbolOpacity": 0.6, "labelFont": "Lato", "labelFontSize": 13.5, "labelColor": "#222", "labelFontWeight": "normal", "columnPadding": 6, "labelOffset": 5}}
                  }
                },
                {
                  "data": {"name": "d150_gate"},
                  "mark": {"type": "rule", "color": "#111", "strokeWidth": 1.2},
                  "encoding": {"x": {"field": "from", "type": "quantitative"}, "x2": {"field": "to"}, "y": {"field": "y", "type": "quantitative"}}
                },
                {
                  "data": {"name": "d150_gate"},
                  "mark": {"type": "tick", "color": "#111", "orient": "vertical", "size": 6, "thickness": 1.2},
                  "encoding": {"x": {"field": "from", "type": "quantitative"}, "y": {"field": "y", "type": "quantitative"}}
                },
                {
                  "data": {"name": "d150_gate"},
                  "mark": {"type": "text", "fontSize": 6.5, "lineBreak": "\n", "lineHeight": 9, "baseline": "alphabetic", "color": "#222"},
                  "encoding": {"x": {"field": "tx", "type": "quantitative"}, "y": {"field": "ty", "type": "quantitative"}, "text": {"field": "label"}}
                },
                {
                  "data": {"name": "one"},
                  "mark": {"type": "text", "align": "left", "baseline": "alphabetic", "fontSize": 19, "fontWeight": "bold", "color": "#000"},
                  "encoding": {"x": {"datum": 6.37, "type": "quantitative"}, "y": {"datum": 713.9, "type": "quantitative"}, "text": {"value": "D"}}
                },
                {
                  "data": {"name": "one"},
                  "mark": {"type": "text", "align": "center", "baseline": "alphabetic", "fontSize": 13, "fontWeight": "bold", "color": "#000"},
                  "encoding": {"x": {"datum": 22387, "type": "quantitative"}, "y": {"datum": 643.7, "type": "quantitative"}, "text": {"value": "HSPC CD150 Expression"}}
                }
              ]
            },
            {
              "width": 159,
              "height": 158,
              "view": {"stroke": "#9a9a9a", "strokeWidth": 1},
              "layer": [
                {
                  "data": {"name": "d46"},
                  "mark": {"type": "area", "fillOpacity": 0.5, "strokeWidth": 1, "interpolate": "monotone"},
                  "encoding": {
                    "x": {"field": "v", "type": "quantitative", "scale": {"type": "log", "domain": [2.7, 250000], "nice": false},
                          "axis": {"title": null, "values": [3, 4, 5, 6, 7, 8, 9, 10, 20, 30, 40, 50, 60, 70, 80, 90, 100, 200, 300, 400, 500, 600, 700, 800, 900, 1000, 2000, 3000, 4000, 5000, 6000, 7000, 8000, 9000, 10000, 20000, 30000, 40000, 50000, 60000, 70000, 80000, 90000, 100000, 200000],
                                   "labelExpr": "indexof([10,100,1000,10000,100000,1000000,10000000], datum.value) >= 0 ? '10' + ['⁰','¹','²','³','⁴','⁵','⁶','⁷'][round(log(datum.value)/LN10)] : ''",
                                   "domain": false, "tickSize": 3, "tickWidth": 0.7, "tickColor": "#555", "labelFontSize": 7, "labelFontWeight": "normal", "labelColor": "#333", "labelPadding": 2, "labelFlush": false, "labelOverlap": false}},
                    "y": {"field": "n", "type": "quantitative", "stack": null, "scale": {"domain": [-6, 483], "nice": false, "zero": false},
                          "axis": {"title": null, "values": [0, 20, 40, 60, 80, 100, 120, 140, 160, 180, 200, 220, 240, 260, 280, 300, 320, 340, 360, 380, 400, 420, 440, 460, 480], "labelExpr": "datum.value % 100 === 0 ? datum.label : ''",
                                   "domain": false, "tickSize": 3, "tickWidth": 0.7, "tickColor": "#555", "labelFontSize": 6.5, "labelFontWeight": "normal", "labelColor": "#333", "labelPadding": 2, "labelOverlap": false}},
                    "fill": {"field": "series", "type": "nominal", "scale": {"domain": ["Isotype Control", "Freshly Isolated", "24hr Stimulated"], "range": ["#c4c4c4", "#6f8ee8", "#c0392b"]}, "legend": null},
                    "stroke": {"field": "series", "type": "nominal", "scale": {"domain": ["Isotype Control", "Freshly Isolated", "24hr Stimulated"], "range": ["#bdbdbd", "#4f7cf0", "#d62828"]}, "legend": null}
                  }
                },
                {
                  "data": {"name": "d46_gate"},
                  "mark": {"type": "rule", "color": "#555", "strokeWidth": 2.2},
                  "encoding": {"x": {"field": "from", "type": "quantitative"}, "x2": {"field": "to"}, "y": {"field": "y", "type": "quantitative"}}
                },
                {
                  "data": {"name": "d46_gate"},
                  "mark": {"type": "tick", "color": "#555", "orient": "vertical", "size": 6, "thickness": 1.5},
                  "encoding": {"x": {"field": "from", "type": "quantitative"}, "y": {"field": "y", "type": "quantitative"}}
                },
                {
                  "data": {"name": "d46_gate"},
                  "mark": {"type": "text", "fontSize": 6.5, "lineBreak": "\n", "lineHeight": 9, "baseline": "alphabetic", "color": "#222"},
                  "encoding": {"x": {"field": "tx", "type": "quantitative"}, "y": {"field": "ty", "type": "quantitative"}, "text": {"field": "label"}}
                },
                {
                  "data": {"name": "one"},
                  "mark": {"type": "text", "align": "center", "baseline": "alphabetic", "fontSize": 13, "fontWeight": "bold", "color": "#000"},
                  "encoding": {"x": {"datum": 822, "type": "quantitative"}, "y": {"datum": 518.6, "type": "quantitative"}, "text": {"value": "HSPC CD46 Expression"}}
                }
              ]
            }
          ]
        }
      ]
    },
    {
      "bounds": "flush",
      "spacing": 170,
      "resolve": {"scale": {"fill": "independent", "stroke": "independent", "shape": "independent"}},
      "hconcat": [
        {
          "width": 236,
          "height": 183,
          "layer": [
            {
              "layer": [
                {
                  "data": {"name": "e_bars"},
                  "mark": {"type": "bar", "stroke": "#ffffff", "strokeOpacity": 0.5, "strokeWidth": 1},
                  "encoding": {
                    "x": {"field": "cond", "type": "nominal", "scale": {"domain": ["VSV-G MOI 1", "H/F MOI 1", "VSV-G MOI 5", "H/F MOI 5"], "paddingInner": 0.34, "paddingOuter": 0.335},
                          "axis": {"title": null, "labelAngle": -45, "labelAlign": "right", "labelBaseline": "top", "labelFontSize": 12, "tickSize": 5, "labelPadding": 2}},
                    "y": {"field": "mean", "type": "quantitative", "scale": {"domain": [0, 80], "nice": false},
                          "axis": {"title": "%EGFP+", "values": [0, 20, 40, 60, 80], "labelFontSize": 14, "titleFontSize": 13, "tickSize": 4, "labelPadding": 1, "titlePadding": 2}},
                    "fill": {"field": "vector", "type": "nominal", "scale": {"domain": ["VSV-G", "H/F"], "range": ["#999999", "#2a00ff"]}, "legend": null}
                  }
                },
                {
                  "data": {"name": "e_bars"},
                  "mark": {"type": "rule", "color": "#000", "strokeWidth": 2},
                  "encoding": {"x": {"field": "cond", "type": "nominal"}, "y": {"field": "lo", "type": "quantitative"}, "y2": {"field": "hi"}}
                },
                {
                  "data": {"name": "e_bars"},
                  "mark": {"type": "tick", "color": "#000", "orient": "horizontal", "size": 20, "thickness": 2},
                  "encoding": {"x": {"field": "cond", "type": "nominal"}, "y": {"field": "lo", "type": "quantitative"}}
                },
                {
                  "data": {"name": "e_bars"},
                  "mark": {"type": "tick", "color": "#000", "orient": "horizontal", "size": 20, "thickness": 2},
                  "encoding": {"x": {"field": "cond", "type": "nominal"}, "y": {"field": "hi", "type": "quantitative"}}
                }
              ]
            },
            {
              "layer": [
                {
                  "data": {"name": "e_br"},
                  "mark": {"type": "rule", "color": "#000", "strokeWidth": 1.8},
                  "encoding": {
                    "x": {"field": "x1", "type": "quantitative", "scale": {"domain": [-0.666, 3.664], "nice": false, "zero": false}, "axis": null},
                    "x2": {"field": "x2"},
                    "y": {"field": "y", "type": "quantitative", "scale": {"domain": [0, 80], "nice": false}, "axis": null}
                  }
                },
                {
                  "data": {"name": "e_br"},
                  "mark": {"type": "tick", "color": "#000", "orient": "vertical", "size": 8, "thickness": 1.8},
                  "encoding": {"x": {"field": "x1", "type": "quantitative", "axis": null}, "y": {"field": "y", "type": "quantitative", "axis": null}}
                },
                {
                  "data": {"name": "e_br"},
                  "mark": {"type": "tick", "color": "#000", "orient": "vertical", "size": 8, "thickness": 1.8},
                  "encoding": {"x": {"field": "x2", "type": "quantitative", "axis": null}, "y": {"field": "y", "type": "quantitative", "axis": null}}
                },
                {
                  "data": {"name": "e_br"},
                  "mark": {"type": "text", "fontSize": 12, "fontWeight": "bold", "baseline": "alphabetic", "color": "#000"},
                  "encoding": {"x": {"field": "mid", "type": "quantitative", "axis": null}, "y": {"field": "ty", "type": "quantitative", "axis": null}, "text": {"field": "label"}}
                },
                {
                  "data": {"name": "one"},
                  "mark": {"type": "text", "align": "left", "baseline": "alphabetic", "fontSize": 19, "fontWeight": "bold", "color": "#000"},
                  "encoding": {"x": {"datum": -1.345, "type": "quantitative", "axis": null}, "y": {"datum": 93.55, "type": "quantitative", "axis": null}, "text": {"value": "E"}}
                },
                {
                  "data": {"name": "one"},
                  "mark": {"type": "text", "align": "center", "baseline": "alphabetic", "fontSize": 13.5, "fontWeight": "bold", "lineBreak": "\n", "lineHeight": 16.5, "color": "#000"},
                  "encoding": {"x": {"datum": 1.499, "type": "quantitative", "axis": null}, "y": {"datum": 90.8, "type": "quantitative", "axis": null}, "text": {"value": "Cord Blood CD34+ Cell\nTransduction with Pre-Stimulation"}}
                }
              ]
            }
          ],
          "resolve": {"scale": {"x": "independent", "y": "independent"}}
        },
        {
          "width": 269,
          "height": 180,
          "layer": [
            {
              "layer": [
                {
                  "data": {"name": "f_bars"},
                  "mark": {"type": "bar", "stroke": "#ffffff", "strokeOpacity": 0.5, "strokeWidth": 1},
                  "encoding": {
                    "x": {"field": "cond", "type": "nominal", "scale": {"domain": ["VSV-G MOI 5", "VSV-G MOI 10", "VSV-G MOI 50", "H/F MOI 1", "H/F MOI 5"], "paddingInner": 0.32, "paddingOuter": 0.52},
                          "axis": {"title": null, "labelAngle": -45, "labelAlign": "right", "labelBaseline": "top", "labelFontSize": 13.5, "tickSize": 5, "labelPadding": 2}},
                    "y": {"field": "mean", "type": "quantitative", "scale": {"domain": [0, 80], "nice": false},
                          "axis": {"title": "%EGFP+", "values": [0, 20, 40, 60, 80], "labelFontSize": 14, "titleFontSize": 13.5, "tickSize": 4, "labelPadding": 1, "titlePadding": 7}},
                    "fill": {"field": "vector", "type": "nominal", "scale": {"domain": ["VSV-G", "H/F"], "range": ["#999999", "#2a00ff"]}, "legend": null}
                  }
                },
                {
                  "data": {"name": "f_bars"},
                  "mark": {"type": "rule", "color": "#000", "strokeWidth": 2},
                  "encoding": {"x": {"field": "cond", "type": "nominal"}, "y": {"field": "lo", "type": "quantitative"}, "y2": {"field": "hi"}}
                },
                {
                  "data": {"name": "f_bars"},
                  "mark": {"type": "tick", "color": "#000", "orient": "horizontal", "size": 19, "thickness": 2},
                  "encoding": {"x": {"field": "cond", "type": "nominal"}, "y": {"field": "lo", "type": "quantitative"}}
                },
                {
                  "data": {"name": "f_bars"},
                  "mark": {"type": "tick", "color": "#000", "orient": "horizontal", "size": 19, "thickness": 2},
                  "encoding": {"x": {"field": "cond", "type": "nominal"}, "y": {"field": "hi", "type": "quantitative"}}
                }
              ]
            },
            {
              "layer": [
                {
                  "data": {"name": "f_br"},
                  "mark": {"type": "rule", "color": "#000", "strokeWidth": 1.8},
                  "encoding": {
                    "x": {"field": "x1", "type": "quantitative", "scale": {"domain": [-0.86, 4.86], "nice": false, "zero": false}, "axis": null},
                    "x2": {"field": "x2"},
                    "y": {"field": "y", "type": "quantitative", "scale": {"domain": [0, 80], "nice": false}, "axis": null}
                  }
                },
                {
                  "data": {"name": "f_br"},
                  "mark": {"type": "tick", "color": "#000", "orient": "vertical", "size": 9, "thickness": 1.8},
                  "encoding": {"x": {"field": "x1", "type": "quantitative", "axis": null}, "y": {"field": "y", "type": "quantitative", "axis": null}}
                },
                {
                  "data": {"name": "f_br"},
                  "mark": {"type": "tick", "color": "#000", "orient": "vertical", "size": 9, "thickness": 1.8},
                  "encoding": {"x": {"field": "x2", "type": "quantitative", "axis": null}, "y": {"field": "y", "type": "quantitative", "axis": null}}
                },
                {
                  "data": {"name": "f_br"},
                  "mark": {"type": "text", "fontSize": 16, "fontWeight": "bold", "baseline": "alphabetic", "color": "#000"},
                  "encoding": {"x": {"field": "mid", "type": "quantitative", "axis": null}, "y": {"field": "ty", "type": "quantitative", "axis": null}, "text": {"field": "label"}}
                },
                {
                  "data": {"name": "one"},
                  "mark": {"type": "text", "align": "left", "baseline": "alphabetic", "fontSize": 19, "fontWeight": "bold", "color": "#000"},
                  "encoding": {"x": {"datum": -2.455, "type": "quantitative", "axis": null}, "y": {"datum": 93.8, "type": "quantitative", "axis": null}, "text": {"value": "F"}}
                },
                {
                  "data": {"name": "one"},
                  "mark": {"type": "text", "align": "center", "baseline": "alphabetic", "fontSize": 13.5, "fontWeight": "bold", "lineBreak": "\n", "lineHeight": 15, "color": "#000"},
                  "encoding": {"x": {"datum": 2.0, "type": "quantitative", "axis": null}, "y": {"datum": 90.2, "type": "quantitative", "axis": null}, "text": {"value": "Cord Blood CD34+ Cell  Transduction\nwithout Pre-stimulation"}}
                }
              ]
            }
          ],
          "resolve": {"scale": {"x": "independent", "y": "independent"}}
        }
      ]
    }
  ]
}
